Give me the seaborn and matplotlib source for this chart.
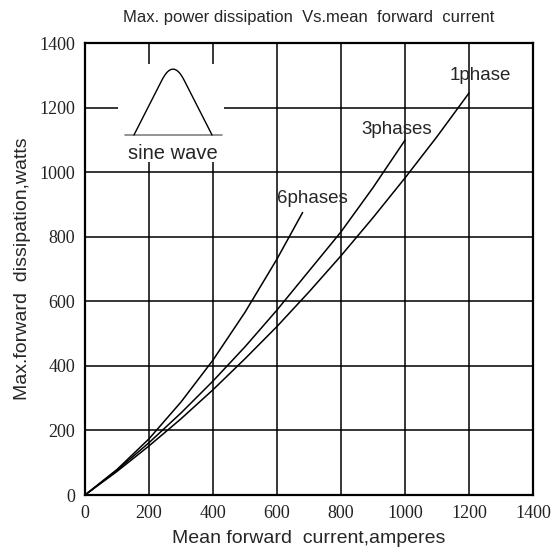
import numpy as np
import pandas as pd
import seaborn as sns
from matplotlib import pyplot as plt

# values
x_1phase = [0, 100, 200, 300, 400, 500, 600, 700, 800, 900, 1000, 1100, 1200]
y_1phase = [0, 73, 152, 236, 326, 422, 522, 629, 741, 859, 982, 1110, 1245]
x_3phases = [0, 100, 200, 300, 400, 500, 600, 700, 800, 900, 1000]
y_3phases = [0, 77, 162, 254, 353, 459, 573, 694, 815, 952, 1099]
x_6phases = [0, 100, 200, 300, 400, 500, 600, 680]
y_6phases = [0, 79, 174, 288, 418, 566, 731, 875]
ticks = [0, 200, 400, 600, 800, 1000, 1200, 1400]

df = pd.concat([
    pd.DataFrame({'x': x_1phase, 'y': y_1phase, 'curve': '1phase'}),
    pd.DataFrame({'x': x_3phases, 'y': y_3phases, 'curve': '3phases'}),
    pd.DataFrame({'x': x_6phases, 'y': y_6phases, 'curve': '6phases'}),
])

sns.set_style('white')
plt.rcParams['font.family'] = ['Liberation Sans', 'DejaVu Sans']

fig = plt.figure(figsize=(5.56, 5.58), dpi=100)
ax = fig.add_axes([85 / 556, 1 - 495 / 558, 448 / 556, 452 / 558])

sns.lineplot(data=df, x='x', y='y', units='curve', estimator=None,
             color='black', lw=1.1, sort=False, ax=ax, zorder=3)

ax.set_xlim(0, 1400)
ax.set_ylim(0, 1400)
ax.set_xticks(ticks)
ax.set_yticks(ticks)
ax.grid(True, color='black', lw=1.1)
ax.tick_params(length=0, pad=7)
for lab in ax.get_xticklabels() + ax.get_yticklabels():
    lab.set_family(['Liberation Serif', 'DejaVu Serif'])
    lab.set_fontsize(13)
    lab.set_color('#222222')
for s in ax.spines.values():
    s.set_color('black')
    s.set_linewidth(1.6)

ax.set_title('Max. power dissipation  Vs.mean  forward  current',
             family=['Liberation Sans Narrow', 'Liberation Sans'], fontsize=12, pad=15)
ax.set_xlabel('Mean forward  current,amperes', fontsize=14, labelpad=6)
ax.set_ylabel('Max.forward  dissipation,watts', fontsize=14, labelpad=6)

# curve labels
ax.text(1140, 1300, '1phase', fontsize=13.5, va='center', zorder=4)
ax.text(865, 1133, '3phases', fontsize=13.5, va='center', zorder=4)
ax.text(599, 919, '6phases', fontsize=13.5, va='center', zorder=4)

# sine wave inset (white patch hides the grid behind it)
ax.add_patch(plt.Rectangle((103, 1030), 330, 305, facecolor='white',
                           edgecolor='none', zorder=2.5))
ax.plot([125, 428], [1115, 1115], color='#808080', lw=1.2, zorder=4)
t = np.linspace(0, 1, 121)
t0, c = 0.36, 1694.0
side = 171.0 / t0 * np.minimum(t, 1 - t)
top = 204.0 - c * (t - 0.5) ** 2
by = 1115 + np.where(np.abs(t - 0.5) < 0.5 - t0, top, side)
bx = 153 + t * (397 - 153)
ax.plot(bx, by, color='black', lw=1.0, zorder=4)
ax.text(275, 1059, 'sine wave', fontsize=14.5, ha='center', va='center', zorder=4)

fig.savefig('out.png', dpi=100)
